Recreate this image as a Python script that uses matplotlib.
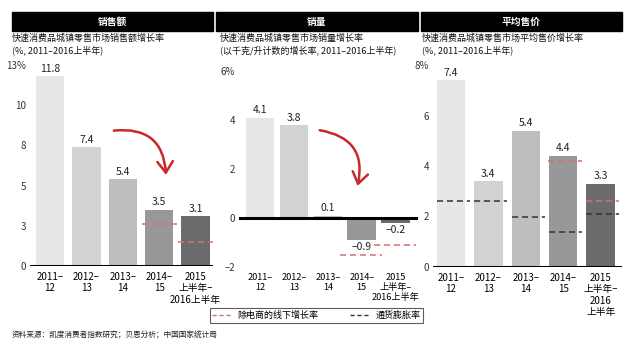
import matplotlib.pyplot as plt
import numpy as np
from matplotlib.patches import Rectangle, FancyArrowPatch
from matplotlib.lines import Line2D

plt.rcParams['font.family'] = ['Noto Sans CJK SC', 'DejaVu Sans']

periods = ['2011–\n12', '2012–\n13', '2013–\n14', '2014–\n15', '2015\n上半年–\n2016上半年']
periods3 = ['2011–\n12', '2012–\n13', '2013–\n14', '2014–\n15', '2015\n上半年–\n2016\n上半年']

sales = [11.8, 7.4, 5.4, 3.5, 3.1]
volume = [4.1, 3.8, 0.1, -0.9, -0.2]
price = [7.4, 3.4, 5.4, 4.4, 3.3]

# offline growth excluding e-commerce (red dashed), per period; None = not shown
sales_offline = [None, None, None, 2.6, 1.5]
volume_offline = [None, None, None, -1.5, -1.1]
price_offline = [None, None, None, 4.2, 2.6]
# inflation (black dashed)
price_inflation = [2.6, 2.6, 2.0, 1.4, 2.1]

headers = ['销售额', '销量', '平均售价']
subtitles = [
    '快速消费品城镇零售市场销售额增长率\n(%, 2011–2016上半年)',
    '快速消费品城镇零售市场销量增长率\n(以千克/升计数的增长率, 2011–2016上半年)',
    '快速消费品城镇零售市场平均售价增长率\n(%, 2011–2016上半年)',
]
source = '资料来源：凯度消费者指数研究；贝恩分析；中国国家统计局'

bar_colors = ['#e7e7e9', '#d2d2d4', '#bebec0', '#98989a', '#6b6b6d']
red = '#d97070'
W, H = 640, 354

fig = plt.figure(figsize=(6.4, 3.54), dpi=100)

def px(x0, y0, x1, y1):
    return [x0 / W, 1 - y1 / H, (x1 - x0) / W, (y1 - y0) / H]

ax1 = fig.add_axes(px(30, 57, 213, 266))
ax2 = fig.add_axes(px(239, 71, 418, 267))
ax3 = fig.add_axes(px(433, 65, 622, 267))

def setup(ax, values, labels, width, xlim, ylim, yticks, yticklabels, xfs=7):
    x = np.arange(len(values))
    ax.bar(x, values, width=width, color=bar_colors, zorder=2)
    span = ylim[1] - ylim[0]
    for xi, v in zip(x, values):
        if v >= 0:
            ax.text(xi, v + span * 0.012, f'{v:.1f}', ha='center', va='bottom', fontsize=7.5, color='#222')
        else:
            ax.text(xi, v - span * 0.012, f'–{abs(v):.1f}', ha='center', va='top', fontsize=7.5, color='#222')
    ax.axhline(0, color='black', lw=2.2, zorder=3)
    ax.set_xlim(*xlim)
    ax.set_ylim(*ylim)
    ax.set_xticks(x)
    ax.set_xticklabels(labels, fontsize=xfs, linespacing=1.2)
    ax.set_yticks(yticks)
    ax.set_yticklabels(yticklabels, fontsize=7, color='#333')
    ax.tick_params(length=0, pad=3)
    ax.tick_params(axis='x', pad=4)
    for s in ax.spines.values():
        s.set_visible(False)
    ax.patch.set_alpha(0)

def dashes(ax, values, color, lo=0.5, hi=0.5):
    for i, v in enumerate(values):
        if v is not None:
            ax.plot([i - lo, i + hi], [v, v], color=color, lw=1.1, ls=(0, (4, 2.5)), zorder=4)

setup(ax1, sales, periods, 0.78, (-0.55, 4.48), (0, 13),
      [0, 2.5, 5, 7.5, 10, 12.5], ['0', '3', '5', '8', '10', '13%'])
setup(ax2, volume, periods, 0.84, (-0.62, 4.66), (-2, 6),
      [-2, 0, 2, 4, 6], ['–2', '0', '2', '4', '6%'], xfs=6.6)
setup(ax3, price, periods3, 0.76, (-0.48, 4.57), (0, 8),
      [0, 2, 4, 6, 8], ['0', '2', '4', '6', '8%'])

dashes(ax1, sales_offline, red, 0.47, 0.5)
dashes(ax2, volume_offline, red, 0.64, 0.6)
dashes(ax3, price_offline, red, 0.4, 0.5)
dashes(ax3, price_inflation, '#333333', 0.38, 0.5)

# red curved arrows
for ax, start, end in [(ax1, (1.68, 8.4), (3.19, 5.5)), (ax2, (1.68, 3.6), (2.86, 1.2))]:
    arr = FancyArrowPatch(start, end, connectionstyle='arc3,rad=-0.55',
                          arrowstyle='->,head_length=5,head_width=3.5', color='#c8282c',
                          lw=1.8, zorder=5, mutation_scale=1.6)
    ax.add_patch(arr)

# header bars
for (x0, x1), t in zip([(12, 213), (216, 418), (421, 622)], headers):
    fig.patches.append(Rectangle((x0 / W, 1 - 31 / H), (x1 - x0) / W, 19 / H,
                                 transform=fig.transFigure, color='black', zorder=1))
    fig.text((x0 + x1) / 2 / W, 1 - 21.5 / H, t, color='white', fontsize=7,
             fontweight='bold', ha='center', va='center')

for x0, s in zip([12, 220, 422], subtitles):
    fig.text(x0 / W, 1 - 34 / H, s, fontsize=6.5, ha='left', va='top', linespacing=1.25, color='#111')

leg_handles = [Line2D([], [], color=red, lw=1, ls=(0, (3, 2))),
               Line2D([], [], color='#333333', lw=1, ls=(0, (3, 2)))]
leg = fig.legend(leg_handles, ['除电商的线下增长率', '通货膨胀率'], loc='center',
                 bbox_to_anchor=(316.5 / W, 1 - 315.5 / H), ncol=2, fontsize=6.5,
                 frameon=True, fancybox=False, edgecolor='#333', handlelength=2.2,
                 columnspacing=3.5, borderpad=0.3, handletextpad=0.6)
leg.get_frame().set_linewidth(0.8)

fig.text(12 / W, 1 - 335 / H, source, fontsize=5.5, ha='left', va='center', color='#222')

fig.savefig('out.png', dpi=100)
